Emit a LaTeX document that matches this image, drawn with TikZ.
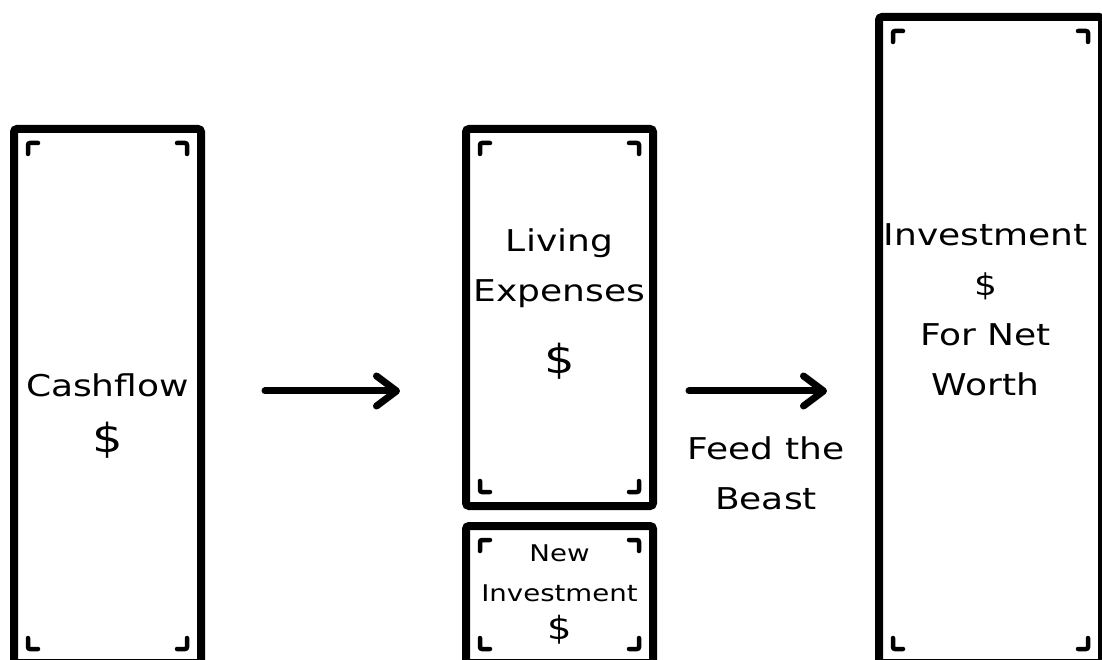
\documentclass[tikz,border=0pt]{standalone}
\usepackage{fontspec}
\usepackage{tikz}
\usetikzlibrary{arrows.meta,positioning,calc}
\newfontfamily\handfont[FakeStretch=1.2]{DejaVu Sans}
\newcommand{\bigdollar}{{\fontsize{40}{50}\selectfont\$}}
\newcommand{\midollar}{{\fontsize{32}{40}\selectfont\$}}

\begin{document}
\begin{tikzpicture}[x=1pt,y=1pt,node distance=12pt and 257pt]
\tikzset{card/.style={draw=black,line width=8pt,rounded corners=3pt,fill=white,minimum width=187pt,inner sep=0pt}, cornertick/.style={line width=4.5pt,line cap=round,rounded corners=2pt}, hand/.style={font=\handfont\fontsize{30}{50}\selectfont,align=center,inner sep=0pt}, handsmall/.style={font=\handfont\fontsize{23}{40}\selectfont,align=center,inner sep=0pt}, flow/.style={line width=7pt,line cap=round,-{Straight Barb[length=20pt,width=30pt,round]}}}
\useasboundingbox (0,0) rectangle (1102,659);
\clip (0,0) rectangle (1102,659);
\node[card,minimum height=534pt,anchor=north west] (cash) at (10,534) {};
\node[card,minimum height=377pt,right=of cash.north east,anchor=north west] (living) {};
\node[card,minimum height=137pt,below=of living] (newinv) {};
\node[card,minimum width=223pt,minimum height=646pt,anchor=north west] (invest) at (875,646) {};
% small corner ticks
\foreach \c in {cash,living,newinv,invest}{
  \draw[cornertick] ($(\c.north west)+(18,-29)$) |- ++(10,11);
  \draw[cornertick] ($(\c.north east)+(-18,-29)$) |- ++(-10,11);
  \draw[cornertick] ($(\c.south west)+(18,29)$) |- ++(10,-11);
  \draw[cornertick] ($(\c.south east)+(-18,29)$) |- ++(-10,-11);
}
\node[hand] (cashlbl) at ($(cash.north)+(0,-291)$) {Cashflow\\[6pt]\bigdollar};
\node[hand] (livinglbl) at ($(living.north)+(0,-179)$) {Living\\Expenses\\[22pt]\bigdollar};
\node[handsmall] (newinvlbl) at ($(newinv.north)+(0,-72)$) {New\\Investment\\[-2pt]\midollar};
\node[hand] (investlbl) at ($(invest.north)+(-5,-297)$) {Investment\\\$\\For Net\\Worth};
\coordinate (row) at (0,268);
\draw[flow,shorten <=60pt,shorten >=62pt] (cash.east |- row) -- (living.west |- row);
\draw[flow,shorten <=32pt,shorten >=48pt] (living.east |- row) -- node[hand,below=42pt] (feed) {Feed the\\Beast} (invest.west |- row);
\end{tikzpicture}
\end{document}
